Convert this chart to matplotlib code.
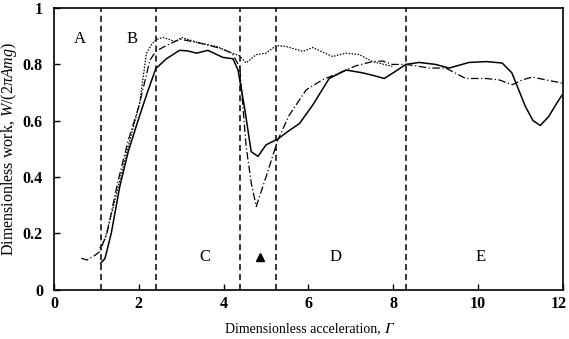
import numpy as np
import matplotlib.pyplot as plt
from matplotlib.transforms import ScaledTranslation

plt.rcParams['font.family'] = ['Liberation Serif', 'STIXGeneral', 'DejaVu Serif']
plt.rcParams['mathtext.fontset'] = 'custom'
plt.rcParams['mathtext.rm'] = 'Liberation Serif'
plt.rcParams['mathtext.it'] = 'Liberation Serif:italic'

# solid curve
solid_g = [1.10, 1.20, 1.35, 1.55, 1.75, 1.98, 2.20, 2.40, 2.65, 2.96, 3.15, 3.36,
           3.63, 3.98, 4.22, 4.34, 4.50, 4.65, 4.81, 5.00, 5.28, 5.50, 5.79, 6.10,
           6.49, 6.89, 7.28, 7.55, 7.79, 8.05, 8.30, 8.61, 9.00, 9.32, 9.79, 10.20,
           10.57, 10.80, 11.12, 11.30, 11.47, 11.67, 11.85, 11.98]
solid_w = [0.093, 0.11, 0.20, 0.366, 0.49, 0.60, 0.70, 0.785, 0.82, 0.85, 0.848, 0.84,
           0.85, 0.825, 0.82, 0.78, 0.64, 0.49, 0.473, 0.514, 0.535, 0.56, 0.59, 0.655,
           0.75, 0.78, 0.77, 0.76, 0.75, 0.775, 0.80, 0.807, 0.80, 0.787, 0.807, 0.81,
           0.805, 0.77, 0.65, 0.60, 0.583, 0.615, 0.66, 0.69]

# dash-dot curve
dashdot_g = [0.64, 0.78, 0.95, 1.08, 1.25, 1.50, 1.75, 2.00, 2.26, 2.40, 2.56, 2.96,
             3.44, 3.90, 4.20, 4.38, 4.53, 4.65, 4.77, 5.00, 5.28, 5.55, 5.95, 6.34,
             6.89, 7.12, 7.51, 7.75, 7.98, 8.30, 8.61, 8.85, 9.24, 9.71, 10.18, 10.50,
             10.81, 11.05, 11.28, 11.60, 11.98]
dashdot_w = [0.111, 0.105, 0.12, 0.135, 0.20, 0.38, 0.53, 0.65, 0.815, 0.846, 0.86, 0.89,
             0.876, 0.858, 0.84, 0.79, 0.51, 0.38, 0.295, 0.40, 0.532, 0.62, 0.71, 0.746,
             0.78, 0.795, 0.81, 0.812, 0.80, 0.80, 0.793, 0.787, 0.787, 0.75, 0.75, 0.745,
             0.728, 0.745, 0.755, 0.745, 0.734]

# dotted curve
dotted_g = [1.08, 1.20, 1.40, 1.71, 2.02, 2.18, 2.30, 2.40, 2.57, 2.88, 3.00, 3.43,
            3.83, 4.14, 4.38, 4.53, 4.77, 5.00, 5.24, 5.47, 5.87, 6.10, 6.57, 6.89,
            7.20, 7.51, 7.98]
dotted_w = [0.147, 0.18, 0.295, 0.485, 0.663, 0.84, 0.87, 0.888, 0.896, 0.88, 0.896, 0.876,
            0.864, 0.844, 0.83, 0.805, 0.835, 0.84, 0.867, 0.864, 0.846, 0.86, 0.828, 0.84,
            0.835, 0.81, 0.793]

# regime boundaries and labels
bounds = [1.1, 2.4, 4.39, 5.24, 8.3]
region_names = ['A', 'B', 'C', 'D', 'E']
region_x = [0.61, 1.85, 3.55, 6.65, 10.06]
region_y = [0.89, 0.89, 0.117, 0.117, 0.117]
marker_x, marker_y = 4.86, 0.117

fig = plt.figure(figsize=(5.69, 3.39), dpi=100)
ax = fig.add_axes([0.095, 0.146, 0.894, 0.830])

ax.plot(solid_g, solid_w, color='black', lw=1.1, ls='-')
ax.plot(dashdot_g, dashdot_w, color='black', lw=0.9, ls=(0, (6, 2, 1, 2)))
ax.plot(dotted_g, dotted_w, color='black', lw=0.9, ls=(0, (1.2, 1.2)))

for b in bounds:
    ax.axvline(b, color='black', lw=1.1, ls=(0, (4, 2.5)))

for name, x, y in zip(region_names, region_x, region_y):
    ax.text(x, y, name, fontsize=12, ha='center', va='center')
ax.plot(marker_x, marker_y, marker='^', color='black', ms=6)

ax.set_xlim(0, 12)
ax.set_ylim(0, 1)
ax.set_xticks([0, 2, 4, 6, 8, 10, 12])
ax.set_yticks([0, 0.2, 0.4, 0.6, 0.8, 1])
ax.set_xticklabels(['0', '2', '4', '6', '8', '10', '12'], fontweight='bold')
ax.set_yticklabels(['0', '0.2', '0.4', '0.6', '0.8', '1'], fontweight='bold')
ax.tick_params(direction='in', length=4, width=1, labelsize=11.5)
ax.tick_params(axis='x', pad=5)
ax.tick_params(axis='y', pad=8)
for s in ax.spines.values():
    s.set_linewidth(1.2)

# nudge the last x tick label left so it stays inside the figure
last = ax.get_xticklabels()[-1]
last.set_transform(last.get_transform() + ScaledTranslation(-3 / 72, 0, fig.dpi_scale_trans))

# U+1D6E4: mathematical italic capital gamma (falls back to STIXGeneral)
ax.set_xlabel('Dimensionless acceleration, \U0001D6E4', fontsize=10, labelpad=7)
ax.set_ylabel(r'Dimensionless work, $W/(2\mathit{π} Amg)$', fontsize=11.5, labelpad=3)

fig.savefig('out.png', dpi=100)
